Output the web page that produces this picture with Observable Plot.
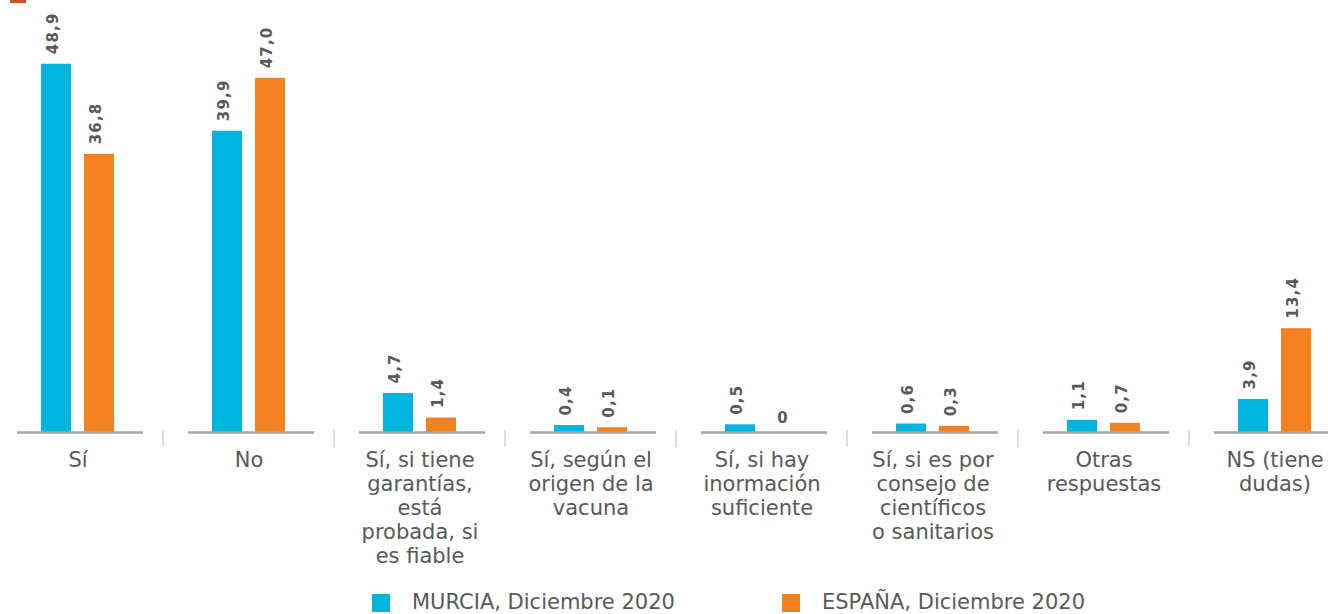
<!DOCTYPE html>
<html>
<head>
<meta charset="utf-8">
<script src="https://cdn.jsdelivr.net/npm/d3@7"></script>
<script src="https://cdn.jsdelivr.net/npm/@observablehq/plot@0.6"></script>
<style>
  body { margin: 0; background: #fff; font-family: "DejaVu Sans", sans-serif; }
  #wrap { position: relative; width: 1328px; height: 614px; overflow: hidden; background: #fff; }
  #chart { position: absolute; left: 0; top: 0; }
  #topmark { position: absolute; left: 10px; top: 0; width: 16px; height: 3px; background: #d0531f; }
  .legend { position: absolute; top: 593px; display: flex; align-items: center; font-size: 21px; color: #595959; line-height: 19px; }
  .sw { width: 18px; height: 18px; margin-right: 22px; }
</style>
</head>
<body>
<div id="wrap">
  <div id="chart"></div>
  <div id="topmark"></div>
  <div class="legend" id="leg0" style="left:372px"></div>
  <div class="legend" id="leg1" style="left:782px"></div>
</div>
<script>
const categories = [
  "Sí",
  "No",
  "Sí, si tiene\ngarantías,\nestá\nprobada, si\nes fiable",
  "Sí, según el\norigen de la\nvacuna",
  "Sí, si hay\ninormación\nsuficiente",
  "Sí, si es por\nconsejo de\ncientíficos\no sanitarios",
  "Otras\nrespuestas",
  "NS (tiene\ndudas)"
];
const murcia = [48.9, 39.9, 4.7, 0.4, 0.5, 0.6, 1.1, 3.9];
const espana = [36.8, 47.0, 1.4, 0.1, 0, 0.3, 0.7, 13.4];
const seriesNames = ["MURCIA, Diciembre 2020", "ESPAÑA, Diciembre 2020"];
const seriesColors = ["#00b5dd", "#f48221"];

const rowsM = categories.map((c, i) => ({cat: c, value: murcia[i]}));
const rowsE = categories.map((c, i) => ({cat: c, value: espana[i]}));
const fmt = v => v === 0 ? "0" : d3.format(".1f")(v).replace(".", ",");

const W = 1328, H = 590, zeroY = 428;
const labelStyle = {fill: "#595959", fontSize: 15, fontWeight: "bold", fontFamily: "DejaVu Sans", rotate: -90, textAnchor: "start", dy: -10};
const zeroStyle = {fill: "#595959", fontSize: 15, fontWeight: "bold", fontFamily: "DejaVu Sans", lineAnchor: "bottom", dy: -6};

const chart = Plot.plot({
  width: W,
  height: H,
  marginTop: 0,
  marginBottom: H - zeroY,
  marginLeft: -8,
  marginRight: W - 1360,
  style: {fontFamily: "DejaVu Sans", background: "transparent"},
  x: {domain: categories, padding: 0, axis: null},
  y: {domain: [0, 57.45], axis: null},
  marks: [
    Plot.barY(rowsM, {x: "cat", y: "value", fill: seriesColors[0], insetLeft: 49, insetRight: 92, insetBottom: -4}),
    Plot.barY(rowsE.filter(d => d.value > 0), {x: "cat", y: "value", fill: seriesColors[1], insetLeft: 92, insetRight: 49, insetBottom: -4}),
    Plot.tickY(categories, {x: d => d, y: 0, dy: 4, stroke: "#a6a6a6", strokeWidth: 2.6, insetLeft: 25, insetRight: 20}),
    Plot.barY(categories.slice(1), {x: d => d, y1: 0, y2: -2.3, dy: 2, fill: "#d4d4d4", insetLeft: -0.75, insetRight: 170.25}),
    Plot.text(rowsM.filter(d => d.value > 0), {x: "cat", y: "value", text: d => fmt(d.value), dx: -25, ...labelStyle}),
    Plot.text(rowsE.filter(d => d.value > 0), {x: "cat", y: "value", text: d => fmt(d.value), dx: 18, ...labelStyle}),
    Plot.text(rowsM.filter(d => d.value === 0), {x: "cat", y: "value", text: d => fmt(d.value), dx: -21, ...zeroStyle}),
    Plot.text(rowsE.filter(d => d.value === 0), {x: "cat", y: "value", text: d => fmt(d.value), dx: 21, ...zeroStyle}),
    Plot.text(categories, {x: d => d, y: 0, text: d => d, lineAnchor: "top", dy: 21, fontSize: 21, lineHeight: 1.143, fill: "#595959", fontFamily: "DejaVu Sans"})
  ]
});
chart.querySelectorAll("g[font-weight='bold'] text").forEach(t => { t.style.letterSpacing = "1.2px"; });
document.getElementById("chart").appendChild(chart);

seriesNames.forEach((name, i) => {
  const el = document.getElementById("leg" + i);
  const sw = document.createElement("div");
  sw.className = "sw";
  sw.style.background = seriesColors[i];
  el.appendChild(sw);
  const sp = document.createElement("span");
  sp.textContent = name;
  el.appendChild(sp);
});
</script>
</body>
</html>
